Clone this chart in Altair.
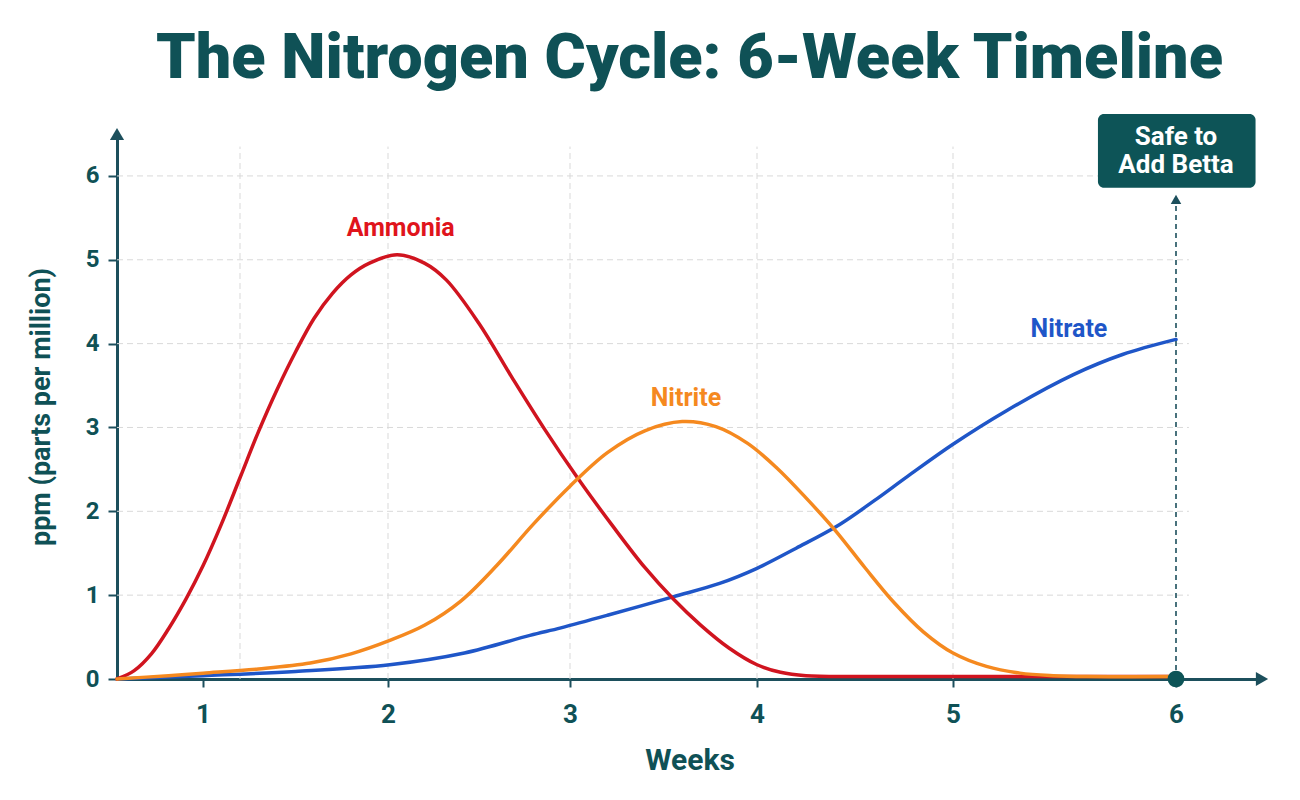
import altair as alt
import pandas as pd

# ---------------- data ----------------
ammonia_weeks = [0.5, 0.6, 0.7, 0.8, 0.9, 1.0, 1.1, 1.2, 1.3, 1.4, 1.5, 1.6, 1.7, 1.8, 1.9,
                 2.05, 2.2, 2.32, 2.5, 2.68, 2.86, 3.04, 3.23, 3.4, 3.55, 3.7, 3.85, 4.0,
                 4.12, 4.25, 4.5, 5.0, 5.5, 6.0]
ammonia_ppm = [0.0, 0.1, 0.3, 0.6, 0.95, 1.35, 1.85, 2.4, 2.95, 3.45, 3.9, 4.3, 4.6, 4.82, 4.96,
               5.06, 4.96, 4.76, 4.24, 3.6, 2.98, 2.4, 1.82, 1.33, 0.96, 0.64, 0.37, 0.17,
               0.08, 0.04, 0.03, 0.03, 0.03, 0.03]

nitrite_weeks = [0.5, 0.8, 1.0, 1.3, 1.58, 1.8, 2.01, 2.2, 2.4, 2.6, 2.8, 3.0, 3.2, 3.4, 3.6,
                 3.78, 3.95, 4.1, 4.25, 4.4, 4.55, 4.7, 4.85, 5.0, 5.15, 5.3, 5.45, 5.6, 6.0]
nitrite_ppm = [0.0, 0.04, 0.07, 0.12, 0.19, 0.3, 0.46, 0.64, 0.93, 1.36, 1.85, 2.3, 2.7, 2.96, 3.07,
               3.01, 2.81, 2.52, 2.16, 1.77, 1.33, 0.91, 0.56, 0.31, 0.15, 0.07, 0.04, 0.03, 0.03]

nitrate_weeks = [0.5, 1.0, 1.5, 2.01, 2.42, 2.78, 2.95, 3.2, 3.55, 3.8, 4.0, 4.2, 4.42,
                 4.6, 4.77, 5.0, 5.24, 5.54, 5.76, 6.0]
nitrate_ppm = [0.0, 0.04, 0.09, 0.17, 0.31, 0.52, 0.61, 0.76, 0.98, 1.14, 1.32, 1.56, 1.84,
               2.13, 2.42, 2.8, 3.2, 3.63, 3.87, 4.05]

series_names = ["Nitrate", "Ammonia", "Nitrite"]
series_colors = ["#1f56c8", "#d0141f", "#f5891f"]
label_colors = ["#1f56c8", "#e0141c", "#f5891f"]
label_weeks = [5.52, 2.07, 3.62]
label_ppm = [4.18, 5.38, 3.35]

x_ticks = [1, 2, 3, 4, 5, 6]
y_ticks = [0, 1, 2, 3, 4, 5, 6]
grid_x = [1.2, 2, 3, 4, 5]
grid_y = [1, 2, 3, 4, 5, 6]

safe_week = 6
safe_lines = ["Safe to", "Add Betta"]
safe_line_ppm = [6.47, 6.13]

# ---------------- styling ----------------
TEAL = "#0f5156"
AXIS = "#1c4f5c"
BOX = "#0d5457"
FONT = "Roboto"

x_dom = [0.5, 1, 2, 3, 4, 5, 6, 6.4]
x_rng = [0, 86, 271, 453, 640, 836, 1059, 1145]
Y_MAX = 6.5


def xs():
    return alt.Scale(domain=x_dom, range=x_rng, nice=False, zero=False)


def ys():
    return alt.Scale(domain=[0, Y_MAX], nice=False, zero=True)


def xaxis():
    return alt.Axis(
        values=x_ticks, format="d", title="Weeks", grid=False,
        domainColor=AXIS, domainWidth=3, tickColor=AXIS, tickWidth=2, tickSize=8,
        labelFont=FONT, labelFontSize=26, labelFontWeight="bold", labelColor=TEAL,
        labelPadding=14, labelFlush=False,
        titleFont=FONT, titleFontSize=30, titleFontWeight="bold", titleColor=TEAL,
        titlePadding=18)


def yaxis():
    return alt.Axis(
        values=y_ticks, format="d", title="ppm (parts per million)", grid=False,
        domainColor=AXIS, domainWidth=3, tickColor=AXIS, tickWidth=2, tickSize=9,
        labelFont=FONT, labelFontSize=24, labelFontWeight="bold", labelColor=TEAL,
        labelPadding=9, labelFlush=False,
        titleFont=FONT, titleFontSize=27, titleFontWeight="bold", titleColor=TEAL,
        titlePadding=30)


def X(field=None, **kw):
    if field is None:
        return alt.X(scale=xs(), axis=xaxis(), **kw)
    return alt.X(field, scale=xs(), axis=xaxis(), **kw)


def Y(field=None, **kw):
    if field is None:
        return alt.Y(scale=ys(), axis=yaxis(), **kw)
    return alt.Y(field, scale=ys(), axis=yaxis(), **kw)


frames = []
for name, wk, pp in [("Ammonia", ammonia_weeks, ammonia_ppm),
                     ("Nitrite", nitrite_weeks, nitrite_ppm),
                     ("Nitrate", nitrate_weeks, nitrate_ppm)]:
    frames.append(pd.DataFrame({"series": name, "week": wk, "ppm": pp}))
lines_df = pd.concat(frames, ignore_index=True)

# ---------------- layers ----------------
hgrid = alt.Chart(pd.DataFrame({"gy": grid_y})).mark_rule(
    color="#d9d9d9", strokeWidth=1, strokeDash=[6, 4]
).encode(
    x=X(datum=x_dom[0], type="quantitative"),
    x2=alt.X2(datum=6.06),
    y=Y("gy:Q"),
)

vgrid = alt.Chart(pd.DataFrame({"gx": grid_x})).mark_rule(
    color="#d9d9d9", strokeWidth=1, strokeDash=[6, 4]
).encode(
    x=X("gx:Q"),
    y=Y(datum=0, type="quantitative"),
    y2=alt.Y2(datum=6.35),
)

line_layers = []
for name, col in zip(series_names, series_colors):
    line_layers.append(
        alt.Chart(lines_df).transform_filter(alt.datum.series == name).mark_line(
            color=col, strokeWidth=3.5, interpolate="catmull-rom", strokeCap="round"
        ).encode(x=X("week:Q"), y=Y("ppm:Q"))
    )

labels_df = pd.DataFrame({"name": series_names, "week": label_weeks,
                          "ppm": label_ppm, "col": label_colors})
labels = alt.Chart(labels_df).mark_text(
    font=FONT, fontSize=25, fontWeight="bold", baseline="middle", align="center"
).encode(
    x=X("week:Q"), y=Y("ppm:Q"),
    text="name:N",
    color=alt.Color("col:N", scale=None, legend=None),
)

# arrowheads on axes
arrow_df = pd.DataFrame({"week": [x_dom[0], x_dom[-1]], "ppm": [Y_MAX, 0],
                         "shape": ["triangle-up", "triangle-right"]})
arrows = alt.Chart(arrow_df).mark_point(filled=True, color=AXIS, opacity=1, size=200).encode(
    x=X("week:Q"), y=Y("ppm:Q"),
    shape=alt.Shape("shape:N", scale=None, legend=None),
)

# safe-to-add marker
safe_rule = alt.Chart(pd.DataFrame({"week": [safe_week]})).mark_rule(
    color=AXIS, strokeWidth=1.6, strokeDash=[5, 4]
).encode(
    x=X("week:Q"),
    y=Y(datum=0, type="quantitative"),
    y2=alt.Y2(datum=5.68),
)
safe_arrow = alt.Chart(pd.DataFrame({"week": [safe_week], "ppm": [5.72]})).mark_point(
    shape="triangle-up", filled=True, color=AXIS, opacity=1, size=110
).encode(x=X("week:Q"), y=Y("ppm:Q"))
safe_dot = alt.Chart(pd.DataFrame({"week": [safe_week], "ppm": [0]})).mark_circle(
    color=BOX, opacity=1, size=280
).encode(x=X("week:Q"), y=Y("ppm:Q"))
safe_box = alt.Chart(pd.DataFrame({"x1": [5.65], "x2": [6.37], "y1": [5.86], "y2": [6.74]})).mark_rect(
    color=BOX, cornerRadius=6
).encode(
    x=X("x1:Q"), x2="x2:Q",
    y=Y("y1:Q"), y2="y2:Q",
)
safe_label = alt.Chart(pd.DataFrame({"week": [safe_week] * 2, "ppm": safe_line_ppm,
                                     "t": safe_lines})).mark_text(
    font=FONT, fontSize=26, fontWeight="bold", color="white",
    align="center", baseline="middle"
).encode(x=X("week:Q"), y=Y("ppm:Q"), text="t:N")

chart = alt.layer(
    hgrid, vgrid, *line_layers, labels, safe_rule, safe_arrow,
    arrows, safe_dot, safe_box, safe_label
).properties(
    width=1145,
    height=545,
    padding={"left": 117, "top": 134, "right": 38, "bottom": 121},
    autosize=alt.AutoSizeParams(type="none"),
    background="white",
    title=alt.TitleParams(
        "The Nitrogen Cycle: 6-Week Timeline",
        font=FONT, fontSize=63, fontWeight=900, color=TEAL,
        anchor="middle", frame="group", offset=23,
    ),
).configure_view(stroke=None)

chart.save("out.html", embed_options={"renderer": "svg", "actions": False})
